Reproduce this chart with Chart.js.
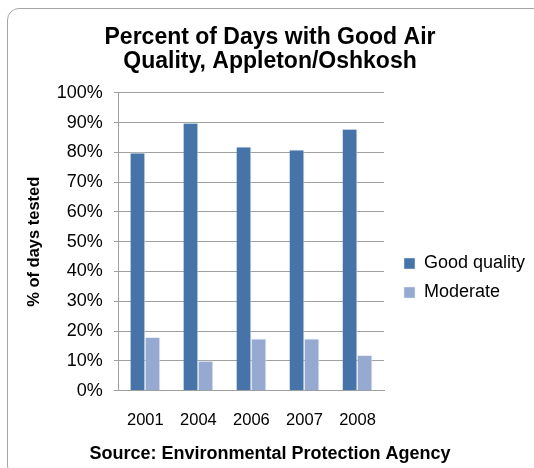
<!DOCTYPE html>
<html>
<head>
<meta charset="utf-8">
<script src="https://cdn.jsdelivr.net/npm/chart.js@4"></script>
<style>
  body { margin: 0; background: #fff; }
  #wrap { position: relative; width: 534px; height: 468px; overflow: hidden; }
  #frame {
    position: absolute; left: 7px; top: 8px; width: 540px; height: 470px;
    border: 1px solid #a6a6a6; border-radius: 12px; box-sizing: border-box;
  }
  canvas { position: absolute; left: 0; top: 0; }
</style>
</head>
<body>
<div id="wrap">
  <div id="frame"></div>
  <canvas id="chart" width="534" height="468"></canvas>
</div>
<script>
// chart data
const years = ['2001', '2004', '2006', '2007', '2008'];
const goodQuality = [80, 90, 82, 81, 88];
const moderate = [18, 10, 17.5, 17.5, 12];
const yTicks = [0, 10, 20, 30, 40, 50, 60, 70, 80, 90, 100];

const fontFamily = 'Liberation Sans, Arial, sans-serif';

// legend box gets a fixed width and sits a bit away from the plot
const legendSpace = {
    id: 'legendSpace',
    beforeLayout(chart) {
        const legend = chart.legend;
        if (legend && !legend._fixedWidth) {
            const fit = legend.fit;
            legend.fit = function () {
                fit.call(this);
                this.width = 150;
            };
            legend._fixedWidth = true;
        }
    },
    afterLayout(chart) {
        if (chart.legend) {
            chart.legend.left += 9;
        }
    }
};

const ctx = document.getElementById('chart').getContext('2d');
window.myChart = new Chart(ctx, {
    type: 'bar',
    data: {
        labels: years,
        datasets: [
            {
                label: 'Good quality',
                data: goodQuality,
                backgroundColor: '#4674a8',
                borderColor: '#dfe6f0',
                borderWidth: { left: 0, right: 1, top: 1, bottom: 0 },
                barPercentage: 1,
                categoryPercentage: 0.565
            },
            {
                label: 'Moderate',
                data: moderate,
                backgroundColor: '#96aad1',
                borderColor: '#e6ebf4',
                borderWidth: { left: 0, right: 1, top: 1, bottom: 0 },
                barPercentage: 1,
                categoryPercentage: 0.565
            }
        ]
    },
    plugins: [legendSpace],
    options: {
        responsive: false,
        animation: false,
        layout: { padding: { left: 6, right: 0, top: 8, bottom: 0 } },
        plugins: {
            title: {
                display: true,
                text: ['Percent of Days with Good Air', 'Quality, Appleton/Oshkosh'],
                color: '#000',
                font: { family: fontFamily, size: 23, weight: 'bold', lineHeight: 1.02 },
                padding: { top: 18, bottom: 20 }
            },
            subtitle: {
                display: true,
                position: 'bottom',
                text: 'Source: Environmental Protection Agency',
                color: '#000',
                font: { family: fontFamily, size: 18, weight: 'bold' },
                padding: { top: 1, bottom: 3 }
            },
            legend: {
                position: 'right',
                title: {
                    // empty title only pushes the items down a bit
                    display: true,
                    text: ' ',
                    font: { size: 10 },
                    padding: { top: 34, bottom: 34 }
                },
                labels: {
                    color: '#000',
                    font: { family: fontFamily, size: 18 },
                    boxWidth: 11,
                    boxHeight: 11,
                    padding: 11
                }
            },
            tooltip: { enabled: false }
        },
        scales: {
            x: {
                grid: { display: false },
                border: { color: '#a0a0a0' },
                ticks: { color: '#000', font: { family: fontFamily, size: 16.5 }, padding: 12 }
            },
            y: {
                min: 0,
                max: 100,
                afterBuildTicks: axis => { axis.ticks = yTicks.map(v => ({ value: v })); },
                grid: { color: '#a0a0a0', tickLength: 5 },
                border: { color: '#a0a0a0' },
                ticks: {
                    color: '#000',
                    font: { family: fontFamily, size: 18 },
                    padding: 11,
                    callback: v => v + '%'
                },
                title: {
                    display: true,
                    text: '% of days tested',
                    color: '#000',
                    font: { family: fontFamily, size: 16.5, weight: 'bold' },
                    padding: { top: 19, bottom: 1 }
                }
            }
        }
    }
});
</script>
</body>
</html>
